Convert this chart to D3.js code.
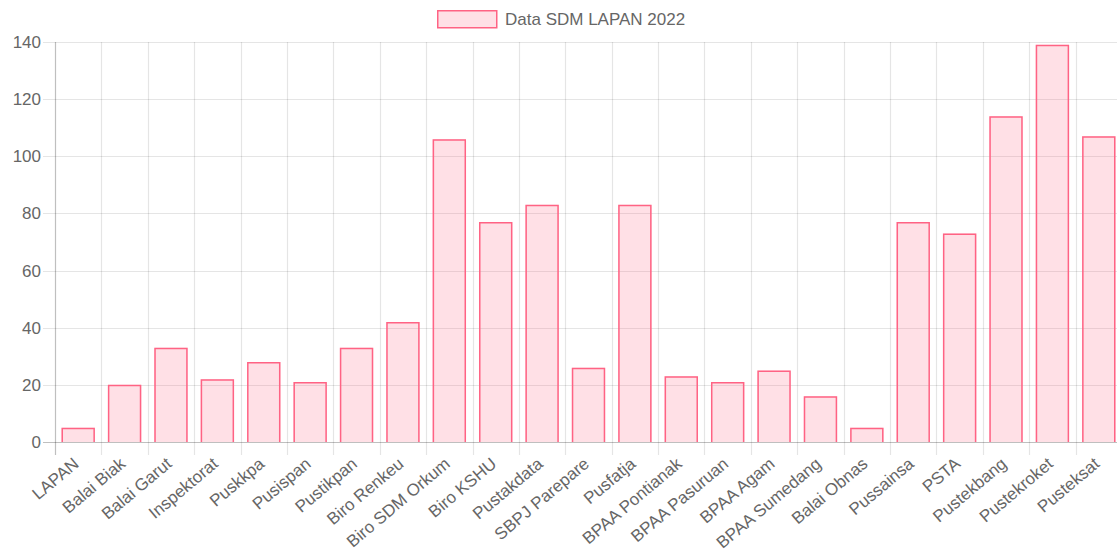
<!DOCTYPE html>
<html>
<head>
<meta charset="utf-8">
<script src="https://cdn.jsdelivr.net/npm/d3@7"></script>
<style>
  html, body { margin: 0; padding: 0; background: #fff; }
  svg { display: block; }
  text { font-family: "Liberation Sans", Arial, Helvetica, sans-serif; fill: #666; }
</style>
</head>
<body>
<svg id="chart" width="1117" height="554"></svg>
<script>
const categories = ["LAPAN", "Balai Biak", "Balai Garut", "Inspektorat", "Puskkpa", "Pusispan",
  "Pustikpan", "Biro Renkeu", "Biro SDM Orkum", "Biro KSHU", "Pustakdata", "SBPJ Parepare",
  "Pusfatja", "BPAA Pontianak", "BPAA Pasuruan", "BPAA Agam", "BPAA Sumedang", "Balai Obnas",
  "Pussainsa", "PSTA", "Pustekbang", "Pustekroket", "Pusteksat"];
const values = [5, 20, 33, 22, 28, 21, 33, 42, 106, 77, 83, 26, 83, 23, 21, 25, 16, 5, 77, 73, 114, 139, 107];
const yTicks = [0, 20, 40, 60, 80, 100, 120, 140];
const seriesLabel = "Data SDM LAPAN 2022";

const svg = d3.select("#chart");
const plotL = 55, plotR = 1122, plotT = 42, plotB = 442;
const fontSize = 17;

const x = d3.scaleBand().domain(categories).range([plotL, plotR]).paddingInner(0).paddingOuter(0);
const y = d3.scaleLinear().domain([0, 140]).range([plotB, plotT]);
const barW = x.bandwidth() * 0.72;

// horizontal gridlines + tick marks
const gy = svg.append("g");
gy.selectAll("line").data(yTicks).join("line")
  .attr("x1", plotL - 12).attr("x2", plotR)
  .attr("y1", d => Math.round(y(d)) + 0.5).attr("y2", d => Math.round(y(d)) + 0.5)
  .attr("stroke", d => d === 0 ? "rgba(0,0,0,0.25)" : "rgba(0,0,0,0.1)")
  .attr("stroke-width", 1.2);
gy.selectAll("text").data(yTicks).join("text")
  .attr("x", plotL - 14).attr("y", d => y(d))
  .attr("dy", "0.35em").attr("text-anchor", "end")
  .style("font-size", fontSize + "px")
  .text(d => d);

// vertical gridlines at category boundaries
const bounds = categories.map(c => x(c));
const gx = svg.append("g");
gx.selectAll("line").data(bounds).join("line")
  .attr("x1", d => Math.round(d) + 0.5).attr("x2", d => Math.round(d) + 0.5)
  .attr("y1", plotT).attr("y2", plotB + 13)
  .attr("stroke", (d, i) => i === 0 ? "rgba(0,0,0,0.25)" : "rgba(0,0,0,0.1)")
  .attr("stroke-width", 1.2);

// bars
const gb = svg.append("g");
categories.forEach((c, i) => {
  const cx = x(c) + x.bandwidth() / 2;
  const x0 = cx - barW / 2, x1 = cx + barW / 2;
  const yt = y(values[i]);
  gb.append("rect").attr("x", x0).attr("y", yt).attr("width", barW).attr("height", plotB - yt)
    .attr("fill", "rgba(255,99,132,0.2)");
  gb.append("path")
    .attr("d", `M${x0 + 0.75},${plotB} L${x0 + 0.75},${yt + 0.75} L${x1 - 0.75},${yt + 0.75} L${x1 - 0.75},${plotB}`)
    .attr("fill", "none").attr("stroke", "rgb(255,99,132)").attr("stroke-width", 1.5);
});

// x labels rotated
const gl = svg.append("g");
categories.forEach(c => {
  const cx = x(c) + x.bandwidth() / 2;
  gl.append("text")
    .attr("transform", `translate(${cx - 2},${plotB + 19}) rotate(-40)`)
    .attr("text-anchor", "end").attr("dy", "0.35em")
    .style("font-size", fontSize + "px")
    .text(c);
});

// legend
const lg = svg.append("g");
lg.append("rect").attr("x", 437.75).attr("y", 10.75).attr("width", 59).attr("height", 17)
  .attr("fill", "rgba(255,99,132,0.2)").attr("stroke", "rgb(255,99,132)").attr("stroke-width", 1.5);
lg.append("text").attr("x", 505).attr("y", 19.5).attr("dy", "0.35em")
  .style("font-size", fontSize + "px").text(seriesLabel);
</script>
</body>
</html>
